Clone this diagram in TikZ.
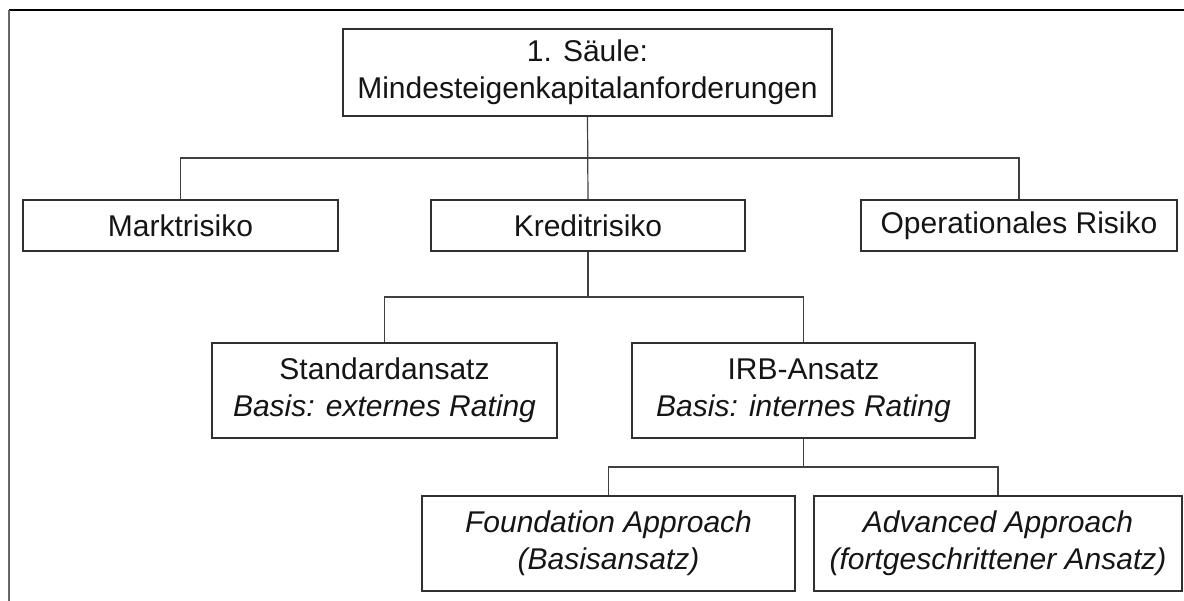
\documentclass[tikz,border=0pt]{standalone}
\usepackage{fontspec}
\setmainfont{Liberation Sans}
\begin{document}
\begin{tikzpicture}[x=1pt,y=-1pt,
  box/.style={draw=boxline, line width=1.3pt, rectangle, inner sep=0pt,
    align=center, text=textcol, font=\fontsize{30}{37}\selectfont},
  link/.style={draw=linkcol, line width=1.2pt}]
\definecolor{boxline}{HTML}{303030}
\definecolor{linkcol}{HTML}{404040}
\definecolor{textcol}{HTML}{151515}
\useasboundingbox (0,0) rectangle (1184,601);
\fill[white] (0,0) rectangle (1184,601);

% frame
\draw[black, line width=2pt] (9,10) -- (1184,10);
\draw[black!60, line width=2.4pt] (9,10) -- (9,601);

% level 0
\node[box, minimum width=489pt, minimum height=87pt] (top) at (587.5,72.5)
  {1. Säule:\\Mindesteigenkapitalanforderungen};

% level 1
\node[box, minimum width=315pt, minimum height=51pt] (markt) at (180.5,225.5) {Marktrisiko};
\node[box, minimum width=314pt, minimum height=51pt] (kredit) at (588,225.5) {Kreditrisiko};
\node[box, minimum width=316pt, minimum height=51pt] (oper) at (1019,225.5) {Operationales Risiko};

% level 2
\node[box, minimum width=345pt, minimum height=95pt] (std) at (384.5,390.5)
  {Standardansatz\\\textit{Basis: externes Rating}};
\node[box, minimum width=343pt, minimum height=95pt] (irb) at (803.5,390.5)
  {IRB-Ansatz\\\textit{Basis: internes Rating}};

% level 3
\node[box, minimum width=373pt, minimum height=95pt] (found) at (608.5,543.5)
  {\textit{Foundation Approach}\\\textit{(Basisansatz)}};
\node[box, minimum width=368pt, minimum height=95pt] (adv) at (998,543.5)
  {\textit{Advanced Approach}\\\textit{(fortgeschrittener Ansatz)}};

% junctions
\coordinate (j1) at (587.5,158);
\coordinate (j2) at (588,297);
\coordinate (j3) at (803.5,467);

% connectors
\draw[link] (top.south) -- (kredit.north);
\draw[link] (markt.north) |- (j1) -| (oper.north);
\draw[link] (kredit.south) -- (j2);
\draw[link] (std.north) |- (j2) -| (irb.north);
\draw[link] (irb.south) -- (j3);
\draw[link] (found.north) |- (j3) -| (adv.north);
\end{tikzpicture}
\end{document}
